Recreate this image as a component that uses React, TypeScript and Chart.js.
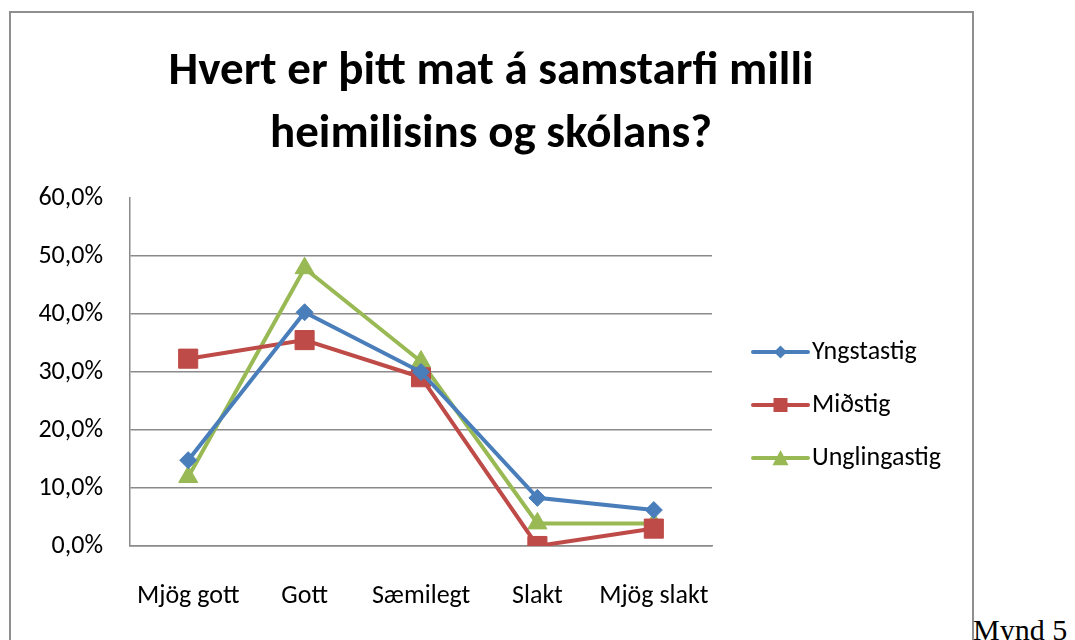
import React, { useEffect, useRef } from 'react';
import { Chart, registerables } from 'chart.js';

Chart.register(...registerables);

const titleLines = ['Hvert er þitt mat á samstarfi milli', 'heimilisins og skólans?'];
const categories = ['Mjög gott', 'Gott', 'Sæmilegt', 'Slakt', 'Mjög slakt'];
const seriesNames = ['Yngstastig', 'Miðstig', 'Unglingastig'];
const yngstastig = [14.8, 40.3, 30.0, 8.3, 6.2];
const midstig = [32.3, 35.5, 29.1, 0, 3.0];
const unglingastig = [11.9, 47.9, 31.8, 3.9, 3.9];
const yTicks = [0, 10, 20, 30, 40, 50, 60];
const caption = 'Mynd 5';

const FONT = 'Carlito, Calibri, Lato, sans-serif';
const COLORS = ['#4A7EBB', '#BE4B48', '#98B954'];
const STYLES = ['rectRot', 'rect', 'triangle'];
const RADII = [8.5, 13.5, 11];

const CW = 962;
const CH = 628;

function drawMarker(ctx: CanvasRenderingContext2D, style: string, x: number, y: number, s: number) {
  ctx.beginPath();
  if (style === 'rectRot') {
    ctx.moveTo(x - s, y);
    ctx.lineTo(x, y - s);
    ctx.lineTo(x + s, y);
    ctx.lineTo(x, y + s);
  } else if (style === 'rect') {
    ctx.rect(x - s, y - s, 2 * s, 2 * s);
  } else {
    ctx.moveTo(x, y - s);
    ctx.lineTo(x + s, y + s * 0.9);
    ctx.lineTo(x - s, y + s * 0.9);
  }
  ctx.closePath();
  ctx.fill();
}

const titlePlugin = {
  id: 'customTitle',
  afterDraw(chart: any) {
    const ctx: CanvasRenderingContext2D = chart.ctx;
    ctx.save();
    ctx.fillStyle = '#000';
    ctx.font = `bold 47px ${FONT}`;
    ctx.textAlign = 'center';
    ctx.textBaseline = 'alphabetic';
    titleLines.forEach((line, i) => {
      ctx.fillText(line, chart.width / 2, 72 + i * 63);
    });
    ctx.restore();
  },
};

const legendPlugin = {
  id: 'customLegend',
  afterDraw(chart: any) {
    const ctx: CanvasRenderingContext2D = chart.ctx;
    const x0 = 743;
    const x1 = 798;
    const tx = 802;
    const y0 = 340;
    const gap = 53;
    const sizes = [6.5, 7, 8];
    chart.data.datasets.forEach((ds: any, i: number) => {
      const y = y0 + i * gap;
      ctx.save();
      ctx.strokeStyle = ds.borderColor;
      ctx.fillStyle = ds.borderColor;
      ctx.lineWidth = 4;
      ctx.lineCap = 'round';
      ctx.beginPath();
      ctx.moveTo(x0, y);
      ctx.lineTo(x1, y);
      ctx.stroke();
      drawMarker(ctx, ds.pointStyle, (x0 + x1) / 2, y, sizes[i]);
      ctx.fillStyle = '#000';
      ctx.font = `26px ${FONT}`;
      ctx.textBaseline = 'middle';
      ctx.textAlign = 'left';
      ctx.fillText(ds.label, tx, y);
      ctx.restore();
    });
  },
};

export default function App() {
  const ref = useRef<HTMLCanvasElement | null>(null);

  useEffect(() => {
    if (!ref.current) return;
    const seriesData = [yngstastig, midstig, unglingastig];
    const chart = new Chart(ref.current, {
      type: 'line',
      data: {
        labels: categories,
        datasets: seriesNames.map((name, i) => ({
          label: name,
          data: seriesData[i],
          borderColor: COLORS[i],
          backgroundColor: COLORS[i],
          pointBackgroundColor: COLORS[i],
          pointBorderColor: COLORS[i],
          pointBorderWidth: 1,
          pointStyle: STYLES[i],
          pointRadius: RADII[i],
          borderWidth: 4,
          tension: 0,
          fill: false,
        })),
      },
      options: {
        responsive: false,
        animation: false,
        events: [],
        devicePixelRatio: 1,
        layout: { padding: { top: 186, right: 260, bottom: 0, left: 0 } },
        plugins: {
          legend: { display: false },
          tooltip: { enabled: false },
          title: { display: false },
        },
        scales: {
          x: {
            offset: true,
            grid: { display: false, drawTicks: false },
            border: { display: true, color: '#8a8a8a', width: 1.5 },
            ticks: { color: '#000', font: { family: FONT, size: 26 }, padding: 35, maxRotation: 0, autoSkip: false },
            afterFit: (scale: any) => {
              scale.height = 94;
            },
          },
          y: {
            min: yTicks[0],
            max: yTicks[yTicks.length - 1],
            grid: {
              drawTicks: false,
              color: (ctx: any) => (ctx.tick && ctx.tick.value === yTicks[yTicks.length - 1] ? 'rgba(0,0,0,0)' : '#8a8a8a'),
              lineWidth: 1.5,
            },
            border: { display: true, color: '#8a8a8a', width: 1.5 },
            ticks: {
              stepSize: yTicks[1] - yTicks[0],
              color: '#000',
              padding: 27,
              font: { family: FONT, size: 26 },
              callback: (v: any) => `${Number(v).toFixed(1).replace('.', ',')}%`,
            },
            afterFit: (scale: any) => {
              scale.width = 120;
            },
          },
        },
      },
      plugins: [titlePlugin, legendPlugin],
    } as any);
    return () => chart.destroy();
  }, []);

  return (
    <div style={{ position: 'fixed', left: 0, top: 0, width: 1075, height: 640, overflow: 'hidden', background: '#fff' }}>
      <div
        style={{
          position: 'absolute',
          left: 9,
          top: 11,
          width: 965,
          height: 660,
          boxSizing: 'border-box',
          borderLeft: '2px solid #8f8f8f',
          borderTop: '2px solid #8f8f8f',
          borderRight: '2px solid #8f8f8f',
        }}
      />
      <canvas ref={ref} width={CW} height={CH} style={{ position: 'absolute', left: 10, top: 12, width: CW, height: CH }} />
      <span
        style={{
          position: 'absolute',
          left: 973,
          top: 615,
          fontFamily: '"Liberation Serif", "Times New Roman", serif',
          fontSize: 30,
          lineHeight: '30px',
          color: '#000',
          whiteSpace: 'nowrap',
        }}
      >
        {caption}
      </span>
    </div>
  );
}
